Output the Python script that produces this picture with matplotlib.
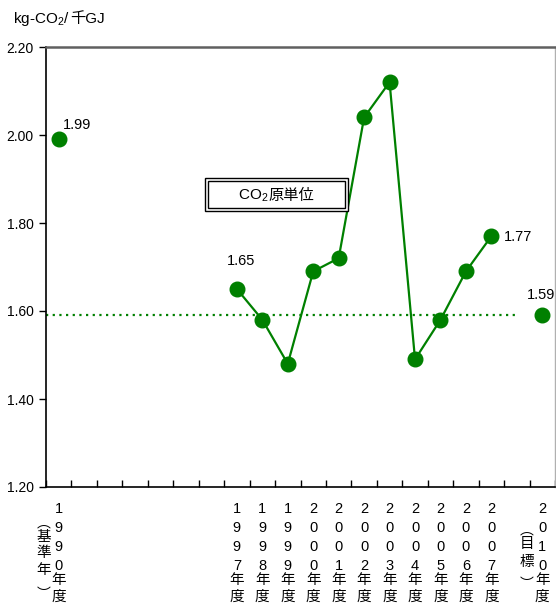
import matplotlib
matplotlib.use("Agg")
import matplotlib.pyplot as plt
from matplotlib.patches import Rectangle
import matplotlib.transforms as mtransforms
import numpy as np

plt.rcParams['font.family'] = ['Liberation Sans', 'Noto Sans CJK JP', 'DejaVu Sans']
plt.rcParams['mathtext.fontset'] = 'custom'
plt.rcParams['mathtext.rm'] = 'Liberation Sans'
plt.rcParams['mathtext.it'] = 'Liberation Sans'

# Fiscal-year slots on the category axis (blank slots keep the spacing)
years = ['1990', '', '', '', '', '', '', '1997', '1998', '1999', '2000', '2001',
         '2002', '2003', '2004', '2005', '2006', '2007', '', '2010']
base_value = 1.99          # 1990 base year
trend_years = ['1997', '1998', '1999', '2000', '2001', '2002', '2003', '2004',
               '2005', '2006', '2007']
trend_values = [1.65, 1.58, 1.48, 1.69, 1.72, 2.04, 2.12, 1.49, 1.58, 1.69, 1.77]
target_value = 1.59        # 2010 target
labeled = {'1990': '1.99', '1997': '1.65', '2007': '1.77', '2010': '1.59'}
y_ticks = [1.20, 1.40, 1.60, 1.80, 2.00, 2.20]

GREEN = '#008000'
W, H = 556, 608
fig = plt.figure(figsize=(W / 100, H / 100), dpi=100)
ax = fig.add_axes([46 / W, (H - 487) / H, (555 - 46) / W, (487 - 47) / H])
renderer = fig.canvas.get_renderer()

idx = {y: i for i, y in enumerate(years) if y}
tx = [idx[y] for y in trend_years]

ax.plot(tx, trend_values, color=GREEN, lw=1.6, marker='o', ms=10.5,
        mec=GREEN, mfc=GREEN, zorder=3)
ax.plot([idx['1990']], [base_value], 'o', color=GREEN, ms=10.5, zorder=3)
ax.plot([idx['2010']], [target_value], 'o', color=GREEN, ms=10.5, zorder=3)
ax.plot([-0.5, 18.0], [target_value, target_value], color=GREEN, lw=1.6,
        ls=(0, (1, 2)), zorder=2)

ax.set_xlim(-0.5, len(years) - 0.5)
ax.set_ylim(1.2, 2.2)
ax.set_yticks(y_ticks)
ax.set_yticklabels([f'{v:.2f}' for v in y_ticks], fontsize=10)
ax.tick_params(axis='y', direction='out', length=5, width=1, pad=4)
ax.set_xticks(np.arange(-0.5, len(years), 1.0))
ax.set_xticklabels([])
ax.tick_params(axis='x', direction='in', length=5, width=1)

for s in ('left', 'bottom'):
    ax.spines[s].set_color('black')
    ax.spines[s].set_linewidth(1.2)
ax.spines['top'].set_color('#606060')
ax.spines['top'].set_linewidth(1.8)
ax.spines['right'].set_color('#b0b0b0')
ax.spines['right'].set_linewidth(1.0)

# value labels
pt = {'1990': base_value, '2010': target_value}
pt.update(dict(zip(trend_years, trend_values)))
offsets = {'1990': (4, 14, 'left'), '1997': (4, 28, 'center'),
           '2007': (12, -1, 'left'), '2010': (-1, 20, 'center')}
for y, txt in labeled.items():
    dx, dy, ha = offsets[y]
    ax.annotate(txt, (idx[y], pt[y]), xytext=(dx, dy), textcoords='offset pixels',
                ha=ha, va='center', fontsize=10.5)

# vertical category labels below the axis
trans = mtransforms.blended_transform_factory(ax.transData, fig.transFigure)
rows_px = [509, 528, 547, 566, 580, 597]
for y, i in idx.items():
    chars = list(y) + ['年', '度']
    for ch, rp in zip(chars, rows_px):
        ax.text(i, 1 - rp / H, ch, transform=trans, ha='center', va='center',
                fontsize=10.5, clip_on=False)


def side_note(x_px, chars, rows, size=10.5):
    for ch, rp in zip(chars, rows):
        fig.text(x_px / W, 1 - rp / H, ch, ha='center', va='center', fontsize=size,
                 family=['Noto Sans CJK JP'])


side_note(44, ['基', '準', '年'], [537, 553, 570])
side_note(44, ['︵'], [523], size=10)
side_note(44, ['︶'], [594], size=10)
side_note(527, ['目', '標'], [544, 562])
side_note(527, ['︵'], [530], size=10)
side_note(527, ['︶'], [584], size=10)


def run_text(x_px, y_px, parts, size, anchor='left'):
    """Lay out text pieces left to right (Latin with mathtext, CJK separately)."""
    objs = []
    for s in parts:
        objs.append(fig.text(0, 0, s, fontsize=size, ha='left', va='baseline', zorder=7))
    widths = [o.get_window_extent(renderer).width for o in objs]
    total = sum(widths)
    x = x_px - (total / 2 if anchor == 'center' else 0)
    for o, w in zip(objs, widths):
        o.set_position((x / W, 1 - y_px / H))
        x += w
    return objs


# unit label
run_text(13, 23, ['kg-CO$_2$/', '千GJ'], 11)

# caption box
x0, y0, x1, y1 = 205, 178, 348, 211
fig.patches.append(Rectangle((x0 / W, 1 - y1 / H), (x1 - x0) / W, (y1 - y0) / H,
                             transform=fig.transFigure, fill=True, fc='white',
                             ec='black', lw=1.0, zorder=5))
fig.patches.append(Rectangle(((x0 + 3) / W, 1 - (y1 - 3) / H), (x1 - x0 - 6) / W,
                             (y1 - y0 - 6) / H, transform=fig.transFigure,
                             fill=False, ec='black', lw=1.0, zorder=6))
run_text((x0 + x1) / 2, 200, ['CO$_2$', '原単位'], 11, anchor='center')

fig.savefig('out.png', dpi=100)
